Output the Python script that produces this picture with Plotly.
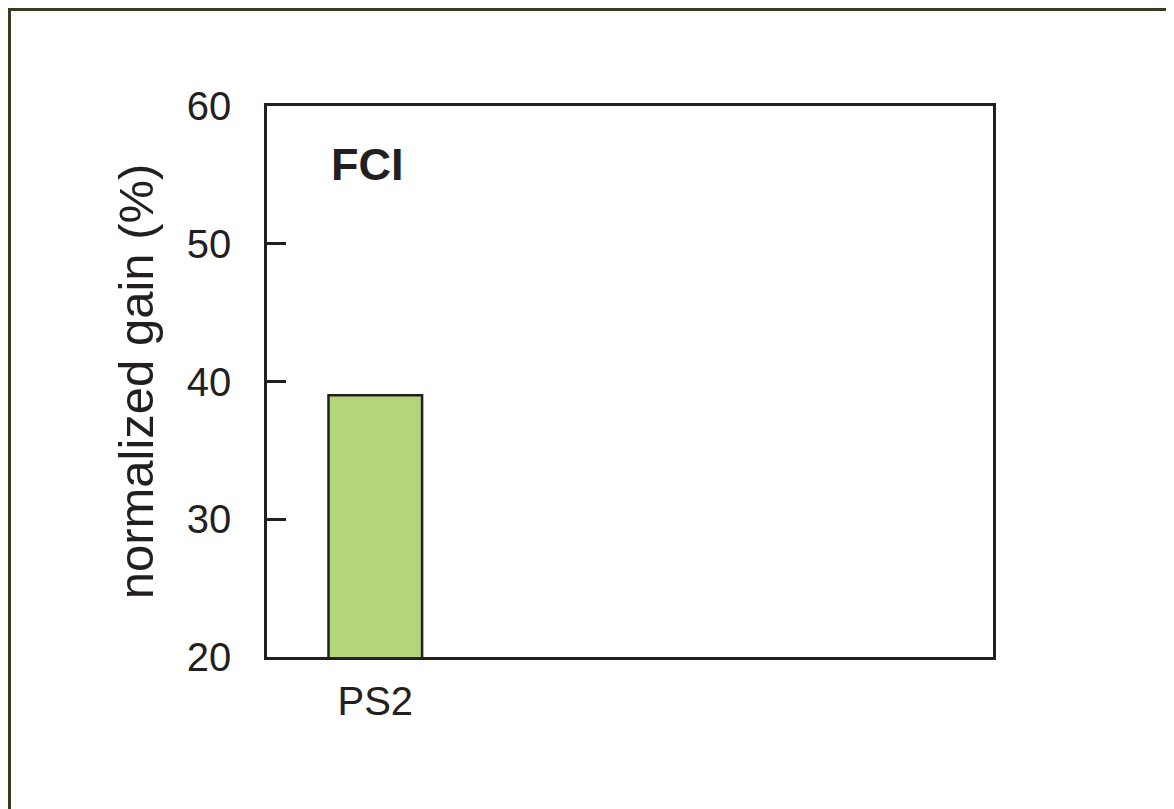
import plotly.graph_objects as go

# Datos
categorias = ['PS2']
ganancia = [39]
ticks_y = [20, 30, 40, 50, 60]

fuente = 'Liberation Sans, Arial, sans-serif'
negro = '#231f20'

# Área del gráfico (en píxeles) para colocar el panel y la etiqueta
izq, arriba, ancho, alto = 259, 98, 726, 551

fig = go.Figure(go.Bar(
    x=categorias,
    y=ganancia,
    width=0.7,
    marker=dict(color='#b3d67b', line=dict(color=negro, width=2.5)),
))

fig.update_layout(
    width=1174,
    height=809,
    margin=dict(l=izq, r=1174 - izq - ancho, t=arriba, b=809 - arriba - alto),
    paper_bgcolor='#cdcdcd',
    plot_bgcolor='white',
    font=dict(family=fuente, color=negro),
    showlegend=False,
    xaxis=dict(
        range=[-0.81, 4.62],
        showline=True, mirror=True, linecolor=negro, linewidth=2.5,
        ticks='', showgrid=False, zeroline=False,
        tickfont=dict(size=40, color=negro),
        ticklabelstandoff=7,
    ),
    yaxis=dict(
        range=[20, 60],
        tickvals=ticks_y,
        showline=True, mirror=True, linecolor=negro, linewidth=2.5,
        ticks='inside', ticklen=19, tickwidth=2.5, tickcolor=negro,
        showgrid=False, zeroline=False,
        tickfont=dict(size=40, color=negro),
        ticklabelstandoff=25,
        title=dict(text='normalized gain (%)', font=dict(size=49, color=negro), standoff=18),
    ),
    # panel blanco con borde oliva, como la diapositiva original
    shapes=[dict(
        type='rect', xref='paper', yref='paper', layer='below',
        x0=(1.5 - izq) / ancho, x1=1.3, y0=-0.3, y1=(arriba + alto - 1.5) / alto,
        fillcolor='white', line=dict(color='#3b3a22', width=3),
    )],
    annotations=[dict(
        text='<b>FCI</b>', xref='paper', yref='paper',
        x=(321 - izq) / ancho, y=(arriba + alto - 156) / alto,
        xanchor='left', yanchor='middle', showarrow=False,
        font=dict(size=45, color=negro, family=fuente),
    )],
)

fig.write_html("out.html")
